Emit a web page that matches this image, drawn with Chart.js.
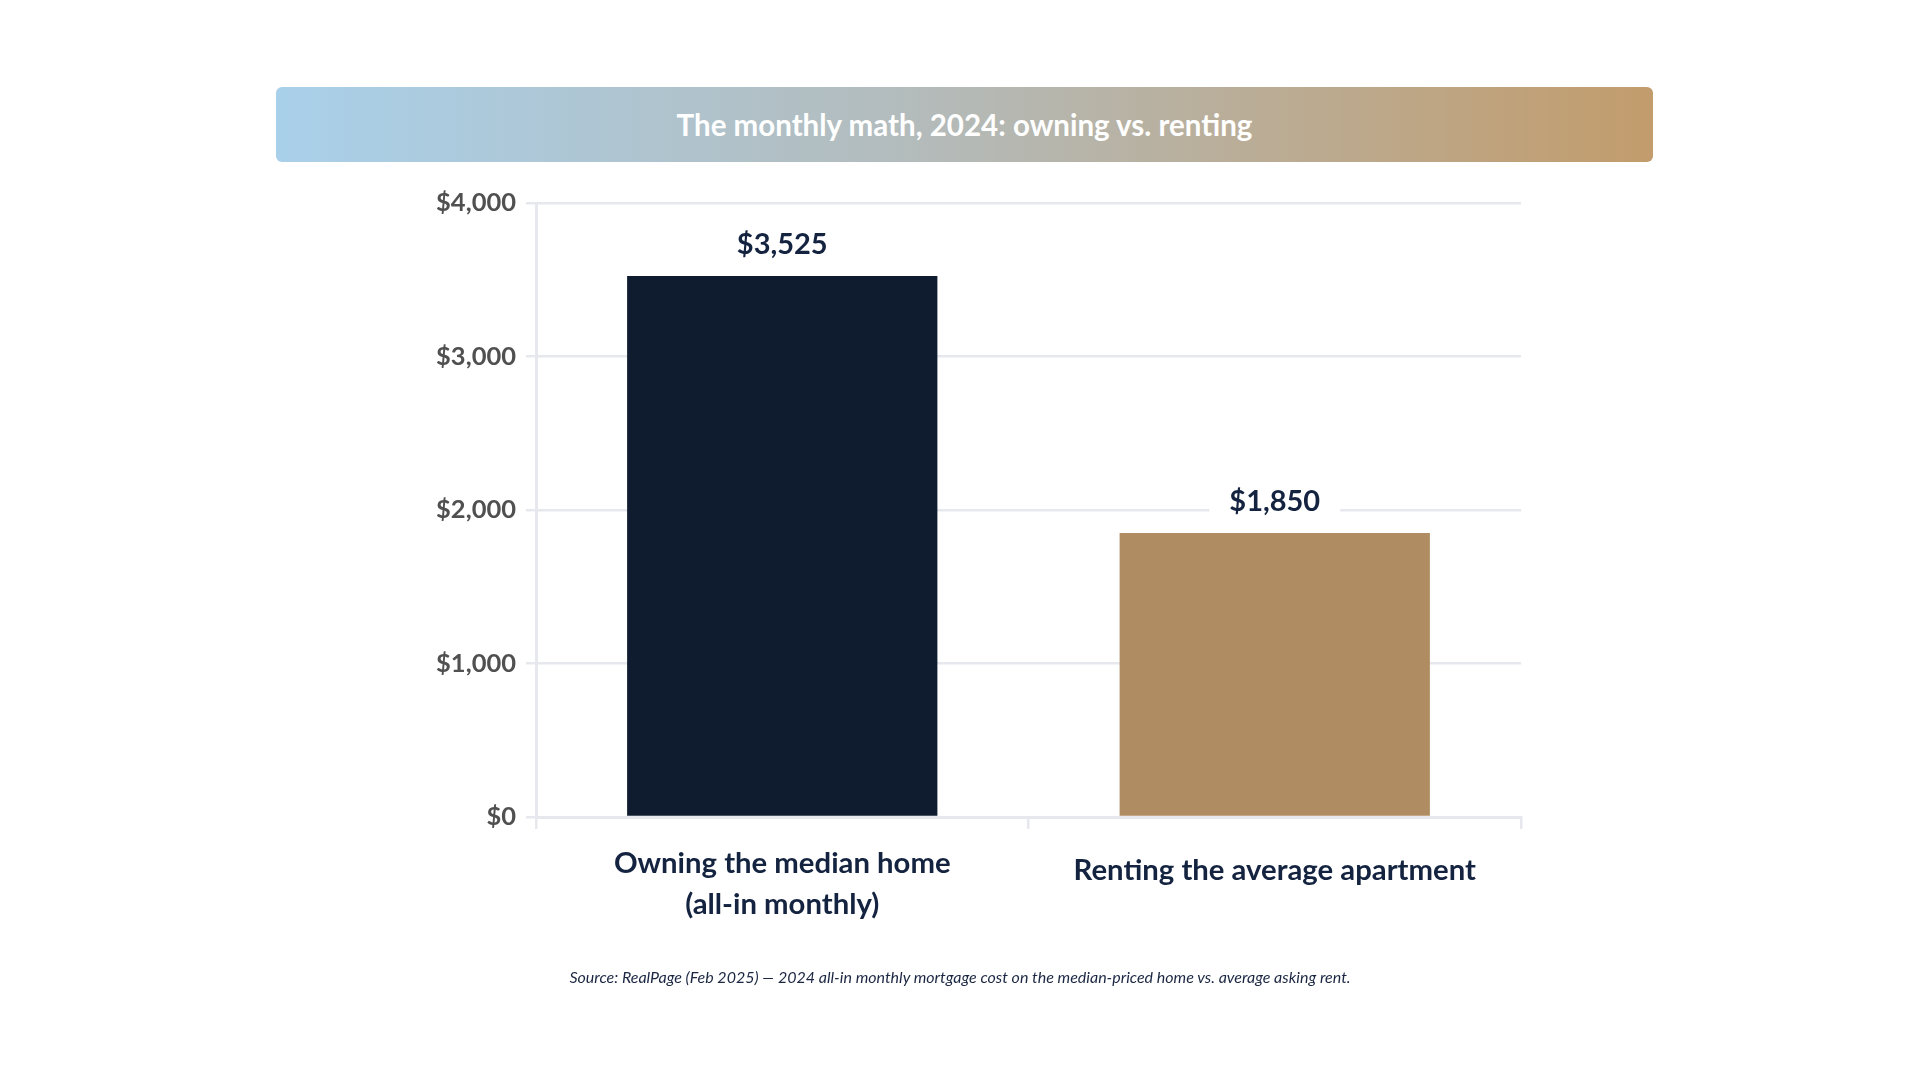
<!DOCTYPE html>
<html>
<head>
<meta charset="utf-8">
<script src="https://cdn.jsdelivr.net/npm/chart.js@4"></script>
<style>
  html, body { margin: 0; padding: 0; background: #fff; }
  body { width: 1920px; height: 1080px; position: relative; overflow: hidden; font-family: Lato, "Noto Sans", sans-serif; }
  #wrap { position: absolute; left: 0; top: 0; width: 1920px; height: 1080px; }
  #titleBar {
    position: absolute; left: 276px; top: 87px; width: 1377px; height: 75px;
    border-radius: 6px;
    background: linear-gradient(to right, #a9d0ea, #b3bcbd 45%, #c29c6c);
    color: #fff; font: bold 29.5px Lato, sans-serif;
    display: flex; align-items: center; justify-content: center;
    z-index: 2;
  }
  #source {
    position: absolute; left: 0; width: 1920px; top: 967px; text-align: center;
    font: italic 16px Lato, sans-serif; color: #1b2742; z-index: 2;
  }
</style>
</head>
<body>
<div id="wrap"><canvas id="costChart"></canvas></div>
<div id="titleBar">The monthly math, 2024: owning vs. renting</div>
<div id="source">Source: RealPage (Feb 2025) — 2024 all-in monthly mortgage cost on the median-priced home vs. average asking rent.</div>

<script>
// data
const categories = [["Owning the median home", "(all-in monthly)"], "Renting the average apartment"];
const monthlyCost = [3525, 1850];
const yMax = 4000;
const yStep = 1000;

const barColors = ["#0f1b2e", "#b08c62"];
const navy = "#14233f";
const gridColor = "#e6e8ee";

function dollars(v) {
  return "$" + Number(v).toLocaleString("en-US");
}

// value labels above bars with a white box behind them
const valueLabels = {
  id: "valueLabels",
  afterDatasetsDraw(chart) {
    const ctx = chart.ctx;
    const meta = chart.getDatasetMeta(0);
    ctx.save();
    ctx.font = "bold 29px Lato";
    ctx.textAlign = "center";
    ctx.textBaseline = "middle";
    meta.data.forEach((bar, i) => {
      const text = dollars(monthlyCost[i]);
      const y = bar.y - 31;
      const w = ctx.measureText(text).width + 40;
      ctx.fillStyle = "#fff";
      ctx.fillRect(bar.x - w / 2, y - 18, w, 36);
      ctx.fillStyle = navy;
      ctx.fillText(text, bar.x, y);
    });
    ctx.restore();
  },
};

function costChart() {
  const data = {
    labels: categories,
    datasets: [
      {
        data: monthlyCost,
        backgroundColor: barColors,
        borderWidth: 0,
        categoryPercentage: 0.7,
        barPercentage: 0.9,
      },
    ],
  };

  const config = {
    type: "bar",
    data: data,
    options: {
      responsive: true,
      maintainAspectRatio: false,
      animation: false,
      layout: {
        padding: { left: 406, right: 399, top: 203, bottom: 143 },
      },
      plugins: {
        legend: { display: false },
        tooltip: { enabled: false },
      },
      scales: {
        x: {
          grid: {
            display: true,
            drawOnChartArea: false,
            color: gridColor,
            lineWidth: 2.5,
            tickLength: 12,
          },
          border: { display: true, color: gridColor, width: 3 },
          ticks: {
            color: navy,
            // single-line labels sit a little lower than the first line of two-line ones
            font: (c) => ({
              family: "Lato",
              size: 29.3,
              weight: "bold",
              lineHeight: Array.isArray(categories[c.index]) ? 1.4 : 1.88,
            }),
            padding: 14,
            maxRotation: 0,
            autoSkip: false,
          },
          afterFit(scale) {
            scale.height = 120;
          },
        },
        y: {
          min: 0,
          max: yMax,
          ticks: {
            stepSize: yStep,
            color: "#505050",
            font: { family: "Lato", size: 25.5, weight: "bold" },
            padding: 10,
            callback: (v) => dollars(v),
          },
          grid: {
            color: gridColor,
            lineWidth: 2.5,
            tickLength: 10,
          },
          border: { display: true, color: gridColor, width: 3 },
          afterFit(scale) {
            scale.width = 130;
          },
        },
      },
    },
    plugins: [valueLabels],
  };

  const ctx = document.getElementById("costChart").getContext("2d");
  new Chart(ctx, config);
}

Promise.all([
  document.fonts.load("bold 28px Lato"),
  document.fonts.load("italic 16px Lato"),
]).then(costChart, costChart);
</script>
</body>
</html>
